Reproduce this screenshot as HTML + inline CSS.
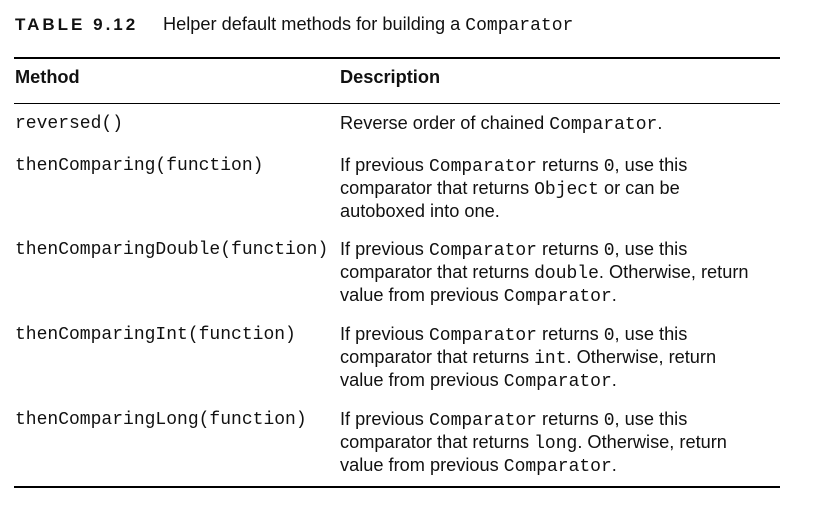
<!DOCTYPE html>
<html><head><meta charset="utf-8"><style>
body{margin:0;width:824px;height:518px;background:#fff;position:relative;overflow:hidden;font-family:"Liberation Sans",sans-serif;color:#111}
.a{position:absolute;white-space:nowrap}
.m{font-family:"Liberation Mono",monospace;font-size:18px}
.s{font-size:18.2px;line-height:21px}
.s code{font-family:"Liberation Mono",monospace;font-size:18px}
.r{position:absolute;left:14px;width:766px;background:#000}
</style></head><body>
<div class="a" style="left:15px;top:15px;font-size:17px;font-weight:bold;letter-spacing:3px">TABLE 9.12</div>
<div class="a s" style="left:163px;top:14px">Helper default methods for building a <code>Comparator</code></div>
<div class="r" style="top:57px;height:2px"></div>
<div class="a s" style="left:15px;top:67px;font-weight:bold">Method</div>
<div class="a s" style="left:340px;top:67px;font-weight:bold">Description</div>
<div class="r" style="top:103px;height:1px"></div>

<div class="a m" style="left:15px;top:114px">reversed()</div>
<div class="a s" style="left:340px;top:113px">Reverse order of chained <code>Comparator</code>.</div>

<div class="a m" style="left:15px;top:156px">thenComparing(function)</div>
<div class="a s" style="left:340px;top:155px">If previous <code>Comparator</code> returns <code>0</code>, use this<br>comparator that returns <code>Object</code> or can be<br>autoboxed into one.</div>

<div class="a m" style="left:15px;top:240px">thenComparingDouble(function)</div>
<div class="a s" style="left:340px;top:239px">If previous <code>Comparator</code> returns <code>0</code>, use this<br>comparator that returns <code>double</code>. Otherwise, return<br>value from previous <code>Comparator</code>.</div>

<div class="a m" style="left:15px;top:325px">thenComparingInt(function)</div>
<div class="a s" style="left:340px;top:324px">If previous <code>Comparator</code> returns <code>0</code>, use this<br>comparator that returns <code>int</code>. Otherwise, return<br>value from previous <code>Comparator</code>.</div>

<div class="a m" style="left:15px;top:410px">thenComparingLong(function)</div>
<div class="a s" style="left:340px;top:409px">If previous <code>Comparator</code> returns <code>0</code>, use this<br>comparator that returns <code>long</code>. Otherwise, return<br>value from previous <code>Comparator</code>.</div>

<div class="r" style="top:486px;height:2px"></div>
</body></html>
